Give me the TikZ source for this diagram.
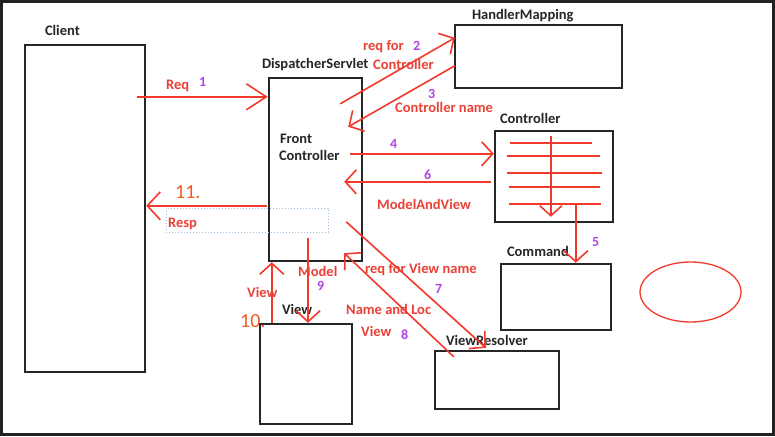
\documentclass[tikz,border=0pt]{standalone}
\usepackage{fontspec}
\setmainfont{Carlito}
\usetikzlibrary{calc}
\usetikzlibrary{positioning}
\usetikzlibrary{arrows.meta}
\usetikzlibrary{shapes.geometric}
\definecolor{penred}{HTML}{F2392B}
\definecolor{labelred}{HTML}{EA4136}
\definecolor{steppurple}{HTML}{B044E0}
\definecolor{steporange}{HTML}{F05A24}
\definecolor{framegray}{HTML}{222222}
\definecolor{selblue}{HTML}{9DBFE3}
\tikzstyle{compbox} = [draw=black!85, line width=2.4pt, rectangle, inner sep=0pt]
\tikzstyle{compname} = [font=\bfseries\fontsize{14.5}{16}\selectfont, text=black!85, inner sep=0pt, anchor=base west]
\tikzstyle{flowlabel} = [font=\bfseries\fontsize{14.5}{16}\selectfont, text=labelred, inner sep=0pt, anchor=base west]
\tikzstyle{stepnum} = [font=\bfseries\fontsize{14}{16}\selectfont, text=steppurple, inner sep=0pt, anchor=base west]
\tikzstyle{handnum} = [font=\fontsize{20}{22}\selectfont, text=steporange, inner sep=0pt, anchor=base west]
\tikzstyle{flow} = [draw=penred, line width=1.6pt, -{Straight Barb[length=11pt,width=24pt]}]
\tikzstyle{stroke} = [draw=penred, line width=1.6pt]

\begin{document}
\begin{tikzpicture}[x=1pt, y=-1pt]
\fill[framegray] (0,0) rectangle (775,436);
\fill[white] (3,3) rectangle (772,433);

% components
\node[compbox, minimum width=120, minimum height=327] (client) at (85,208.5) {};
\node[compbox, minimum width=93, minimum height=183] (dispatcher) at (315.5,169.5) {};
\node[compbox, minimum width=167, minimum height=63] (handler) at (538.5,56.5) {};
\node[compbox, minimum width=118, minimum height=91] (controller) at (554,176.5) {};
\node[compbox, minimum width=110, minimum height=66] (command) at (556,297) {};
\node[compbox, minimum width=124, minimum height=58] (resolver) at (497,380) {};
\node[compbox, minimum width=92, minimum height=100] (view) at (306,374) {};
\node[draw=penred, line width=1.3pt, ellipse, minimum width=101, minimum height=60] (note) at (690.5,292) {};

\node[compname] (client_lbl) at ($(client.north west)+(21,-8)$) {Client};
\node[compname] (dispatcher_lbl) at ($(dispatcher.north west)+(-6,-8)$) {DispatcherServlet};
\node[compname] (front_lbl) at ($(dispatcher.north west)+(12,67)$) {Front};
\node[compname] (frontctl_lbl) at ($(dispatcher.north west)+(11,84)$) {Controller};
\node[compname] (handler_lbl) at ($(handler.north west)+(18,-4)$) {HandlerMapping};
\node[compname] (controller_lbl) at ($(controller.north west)+(6,-6)$) {Controller};
\node[compname] (command_lbl) at ($(command.north west)+(7,-6)$) {Command};
\node[compname] (resolver_lbl) at ($(resolver.north west)+(12,-4)$) {ViewResolver};
\node[compname] (view_lbl) at ($(view.north west)+(23,-8)$) {View};

% controller scribble
\draw[stroke] ($(controller.north west)+(16,13)$) -- ($(controller.north west)+(98,13)$);
\draw[stroke] ($(controller.north west)+(13,26)$) -- ($(controller.north west)+(106,26)$);
\draw[stroke] ($(controller.north west)+(13,43)$) -- ($(controller.north west)+(108,43)$);
\draw[stroke] ($(controller.north west)+(15,57)$) -- ($(controller.north west)+(106,57)$);
\draw[stroke] ($(controller.north west)+(15,74)$) -- ($(controller.north west)+(107,74)$);
\draw[flow, -{Straight Barb[length=10pt,width=22pt]}] ($(controller.north west)+(57,6)$) -- ($(controller.north west)+(57,87)$);

% request flow
\coordinate (req_start) at ($(client.north east)+(-9,53)$);
\draw[flow, -{Straight Barb[length=20pt,width=26pt]}] (req_start) -- (req_start -| dispatcher.west);
\node[flowlabel] (req_lbl) at (166,89) {Req};
\node[stepnum] (req_num) at (199,86) {1};

\coordinate (map_start) at ($(dispatcher.north east)+(-23,27)$);
\coordinate (map_end) at ($(handler.north west)+(1,14)$);
\draw[flow] (map_start) -- (map_end);
\node[flowlabel] (map_lbl) at (363,50) {req for};
\node[stepnum] (map_num) at (413,50) {2};
\node[flowlabel] (map_lbl2) at (373,70) {Controller};

\coordinate (name_start) at ($(handler.north west)+(1,42)$);
\coordinate (name_end) at ($(dispatcher.north east)+(-15,50)$);
\draw[flow] (name_start) -- (name_end);
\node[stepnum] (name_num) at (428,98) {3};
\node[flowlabel] (name_lbl) at (395,112) {Controller name};

\coordinate (call_start) at ($(dispatcher.north east)+(-13,77)$);
\draw[flow] (call_start) -- (call_start -| controller.west);
\node[stepnum] (call_num) at (390,148) {4};

\coordinate (cmd_start) at ($(controller.north west)+(82,74)$);
\draw[flow] (cmd_start) -- (cmd_start |- command.north);
\node[stepnum] (cmd_num) at (592,246) {5};

\coordinate (mav_start) at ($(controller.north west)+(-3,52)$);
\coordinate (mav_end) at ($(dispatcher.north east)+(-19,105)$);
\draw[flow] (mav_start) -- (mav_end);
\node[stepnum] (mav_num) at (424,179) {6};
\node[flowlabel] (mav_lbl) at (377,209) {ModelAndView};

\coordinate (vr_start) at ($(dispatcher.north east)+(-17,145)$);
\coordinate (vr_end) at ($(resolver.north west)+(52,-2)$);
\draw[flow] (vr_start) -- (vr_end);
\node[flowlabel] (vr_lbl) at (365,273) {req for View name};
\node[stepnum] (vr_num) at (435,293) {7};

\coordinate (loc_start) at ($(resolver.north west)+(20,7)$);
\coordinate (loc_end) at ($(dispatcher.south east)+(-19,-9)$);
\draw[flow] (loc_start) -- (loc_end);
\node[flowlabel] (loc_lbl) at (346,314) {Name and Loc};
\node[flowlabel] (loc_lbl2) at (361,336) {View};
\node[stepnum] (loc_num) at (401,339) {8};

\coordinate (model_start) at ($(dispatcher.south)+(-7.5,-24)$);
\draw[flow] (model_start) -- (model_start |- view.north);
\node[flowlabel] (model_lbl) at (298,276) {Model};
\node[stepnum] (model_num) at (317,290) {9};

\coordinate (back_start) at ($(view.north west)+(13,0)$);
\draw[flow] (back_start) -- (back_start |- dispatcher.south);
\node[flowlabel] (back_lbl) at (247,297) {View};
\node[handnum] (back_num) at (240,327) {10.};

\coordinate (resp_start) at ($(dispatcher.north west)+(-1,129)$);
\draw[flow, -{Straight Barb[length=13pt,width=28pt]}] (resp_start) -- (resp_start -| client.east);
\node[handnum] (resp_num) at (175,198) {11.};
\node[draw=selblue, dotted, line width=1pt, minimum width=162, minimum height=24, inner sep=0pt] (resp_box) at (247,220) {};
\node[flowlabel] (resp_lbl) at (168,227) {Resp};
\end{tikzpicture}
\end{document}
